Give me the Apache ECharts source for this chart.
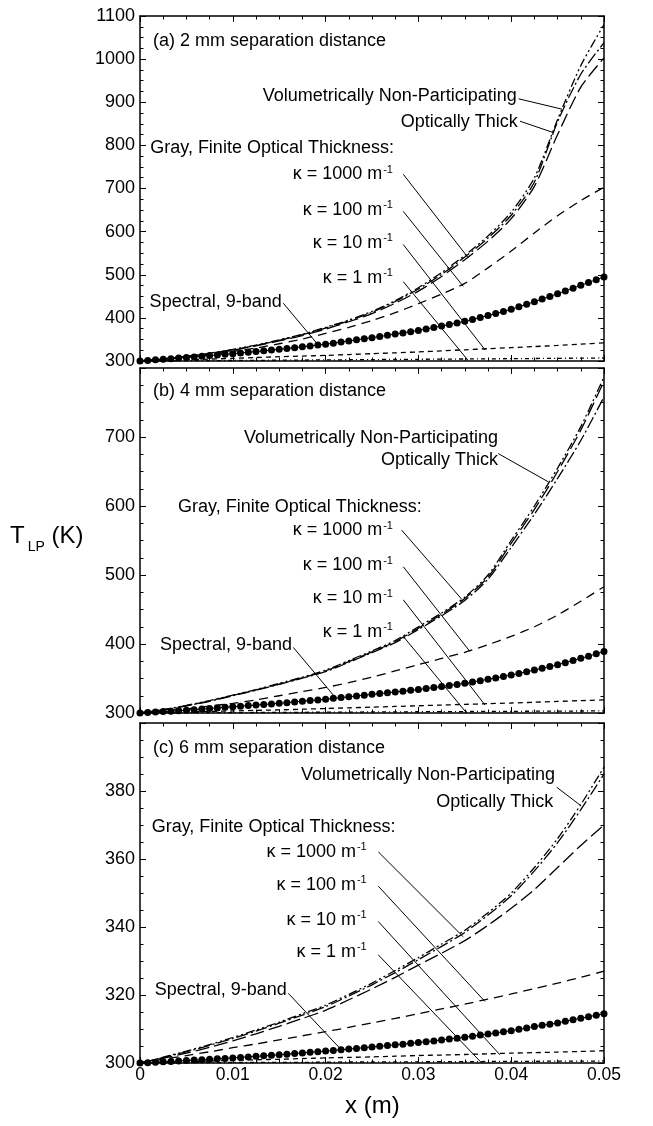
<!DOCTYPE html>
<html>
<head>
<meta charset="utf-8">
<script src="https://cdn.jsdelivr.net/npm/echarts@6/dist/echarts.min.js"></script>
<style>
  html, body { margin: 0; padding: 0; background: #fff; }
  #chart { width: 653px; height: 1126px; }
</style>
</head>
<body>
<div id="chart"></div>
<script>
// ---- sampling positions along the plate, in millimetres ----
const X_LINE_MM = [0, 2.5, 5, 7.5, 10, 12.5, 15, 17.5, 20, 22.5, 25, 27.5, 30, 32.5, 35, 37.5, 40, 42.5, 45, 47.5, 50];
const X_DOT_MM = [0, 0.833, 1.667, 2.5, 3.333, 4.167, 5, 5.833, 6.667, 7.5, 8.333, 9.167,
  10, 10.833, 11.667, 12.5, 13.333, 14.167, 15, 15.833, 16.667, 17.5, 18.333, 19.167,
  20, 20.833, 21.667, 22.5, 23.333, 24.167, 25, 25.833, 26.667, 27.5, 28.333, 29.167,
  30, 30.833, 31.667, 32.5, 33.333, 34.167, 35, 35.833, 36.667, 37.5, 38.333, 39.167,
  40, 40.833, 41.667, 42.5, 43.333, 44.167, 45, 45.833, 46.667, 47.5, 48.333, 49.167, 50];

// ---- tick labels ----
const X_TICKS = [0, 0.01, 0.02, 0.03, 0.04, 0.05];
const Y_TICKS_A = [300, 400, 500, 600, 700, 800, 900, 1000, 1100];
const Y_TICKS_B = [300, 400, 500, 600, 700, 800];
const Y_TICKS_C = [300, 320, 340, 360, 380, 400];

// ---- (a) 2 mm separation: T_LP (K) ----
const A_NONPART = [300, 305, 311, 318, 327, 337, 349, 362, 378, 395, 415, 440, 470, 505, 545, 590, 645, 725, 860, 985, 1080];
const A_THICK   = [300, 305, 310.5, 317.5, 326, 336, 348, 361, 376.5, 393.5, 413, 438, 467, 501, 541, 585, 638, 715, 855, 965, 1038];
const A_K1000   = [300, 304.5, 310, 317, 325, 335, 346.5, 359, 374, 391, 410, 434, 462, 496, 535, 578, 630, 705, 825, 935, 1003];
const A_K100    = [300, 304, 309, 315, 322, 330, 340, 351, 364, 378, 394, 412, 433, 455, 480, 516, 555, 597, 637, 672, 703];
const A_K10     = [300, 301.5, 303, 304.5, 306, 308, 310, 311.5, 313, 315, 317, 319, 321, 323.5, 326, 328.5, 331, 333.5, 336, 339, 342];
const A_K1      = [300, 300.3, 300.6, 300.9, 301.2, 301.5, 301.9, 302.2, 302.6, 302.9, 303.3, 303.6, 304, 304.3, 304.7, 305, 305.4, 305.8, 306.2, 306.6, 307];
const A_SPECTRAL = [300, 301.3, 302.7, 304, 305.3, 306.7,
  308, 309.5, 311, 312.5, 314, 315.5,
  317, 318.6, 320.3, 322, 323.6, 325.3,
  327, 329, 331, 333, 335, 337,
  339, 341.4, 343.9, 346.4, 349, 351.5,
  354, 356.8, 359.6, 362.4, 365.2, 368.1,
  371, 374.3, 377.7, 381.1, 384.6, 388.2,
  392, 396.3, 400.8, 405.4, 410.1, 415,
  420, 425.7, 431.5, 437.4, 443.5, 449.7,
  456, 462.4, 468.9, 475.5, 482.1, 488.6,
  495];

// ---- (b) 4 mm separation ----
const B_NONPART = [300, 305, 311, 318, 326, 334, 343, 352, 362, 376, 390, 405, 425, 445, 468, 500, 550, 600, 655, 715, 787];
const B_THICK   = [300, 304.5, 310.5, 317, 325, 333, 341.5, 350.5, 360, 373.5, 387.5, 402, 421, 441, 463, 494, 540, 588, 640, 695, 758];
const B_K1000   = [300, 304.5, 310.5, 317.5, 325.5, 333.5, 342, 351, 361, 374.5, 388.5, 403.5, 423, 443, 466, 497, 546, 595, 650, 710, 781];
const B_K100    = [300, 303, 306, 310, 314, 319, 325, 331, 337, 344, 352, 361, 370, 379, 388, 399, 411, 425, 442, 462, 483];
const B_K10     = [300, 300.8, 301.5, 302.3, 303, 303.8, 304.5, 305.5, 306.5, 307.5, 308.5, 309.5, 310.5, 311.5, 312.5, 313.5, 314.5, 315.6, 316.8, 317.9, 319];
const B_K1      = [300, 300.1, 300.3, 300.4, 300.6, 300.7, 300.9, 301, 301.2, 301.3, 301.5, 301.7, 301.8, 302, 302.1, 302.3, 302.4, 302.6, 302.7, 302.9, 303];
const B_SPECTRAL = [300, 300.7, 301.3, 302, 302.7, 303.3,
  304, 304.8, 305.7, 306.5, 307.3, 308.2,
  309, 309.8, 310.7, 311.5, 312.3, 313.2,
  314, 315, 316, 317, 318, 319,
  320, 321.2, 322.3, 323.5, 324.7, 325.8,
  327, 328.1, 329.3, 330.5, 331.6, 332.8,
  334, 335.4, 336.9, 338.4, 339.9, 341.4,
  343, 344.8, 346.8, 348.8, 350.8, 352.9,
  355, 357.4, 359.8, 362.3, 364.8, 367.4,
  370, 373, 376.1, 379.2, 382.4, 385.7,
  389];

// ---- (c) 6 mm separation ----
const C_NONPART = [300, 301.7, 303.5, 305.4, 307.5, 309.7, 312, 314.5, 317, 320.2, 323.5, 327.2, 331, 335, 339, 344.2, 350, 357.5, 366, 376, 387];
const C_THICK   = [300, 301.6, 303.3, 305.2, 307.2, 309.4, 311.7, 314.1, 316.6, 319.7, 323, 326.6, 330.4, 334.3, 338.4, 343.5, 349.2, 356.5, 364.8, 374.5, 385];
const C_K1000   = [300, 301.4, 302.9, 304.6, 306.5, 308.6, 310.8, 313.1, 315.5, 318.6, 321.8, 325.2, 328.8, 332.3, 336, 340.5, 345.5, 351, 357.5, 364, 370];
const C_K100    = [300, 301.1, 302.2, 303.3, 304.5, 305.6, 306.8, 308, 309.2, 310.5, 311.8, 313.1, 314.5, 315.9, 317.3, 318.8, 320.3, 321.9, 323.5, 325.2, 327];
const C_K10     = [300, 300.2, 300.4, 300.6, 300.8, 300.95, 301.1, 301.3, 301.5, 301.65, 301.8, 302, 302.2, 302.35, 302.5, 302.7, 302.9, 303.05, 303.2, 303.4, 303.6];
const C_K1      = [300, 300.05, 300.1, 300.1, 300.15, 300.15, 300.2, 300.2, 300.25, 300.3, 300.3, 300.35, 300.35, 300.4, 300.4, 300.45, 300.5, 300.5, 300.55, 300.55, 300.6];
const C_SPECTRAL = [300, 300.1, 300.2, 300.35, 300.45, 300.6,
  300.7, 300.85, 300.95, 301.1, 301.25, 301.35,
  301.5, 301.65, 301.8, 301.95, 302.1, 302.25,
  302.4, 302.6, 302.8, 302.95, 303.15, 303.3,
  303.5, 303.7, 303.9, 304.1, 304.3, 304.5,
  304.7, 304.9, 305.15, 305.35, 305.55, 305.8,
  306, 306.25, 306.5, 306.8, 307.05, 307.3,
  307.6, 307.9, 308.2, 308.5, 308.85, 309.2,
  309.5, 309.9, 310.3, 310.7, 311.1, 311.4,
  311.8, 312.25, 312.7, 313.15, 313.6, 314.05,
  314.5];

// ---- annotation texts (placed in each panel's data coordinates) ----
const K = (v) => 'κ = ' + v + ' m{sup|-1}';
const NOTES_A = [
  { t: '(a) 2 mm separation distance', at: [0.0014, 1042], side: 'right' },
  { t: 'Volumetrically Non-Participating', at: [0.0406, 914], side: 'left', lead: [[0.0408, 908], [0.04547, 884]] },
  { t: 'Optically Thick', at: [0.0407, 854], side: 'left', lead: [[0.04095, 856], [0.0445, 830]] },
  { t: 'Gray, Finite Optical Thickness:', at: [0.0011, 795], side: 'right' },
  { t: K(1000), at: [0.02726, 733], side: 'left', lead: [[0.02837, 733], [0.03538, 539]] },
  { t: K(100), at: [0.02726, 651], side: 'left', lead: [[0.02837, 647], [0.03484, 473]] },
  { t: K(10), at: [0.02726, 574], side: 'left', lead: [[0.02837, 570], [0.03718, 326]] },
  { t: K(1), at: [0.02726, 493], side: 'left', lead: [[0.02837, 484], [0.03538, 300.7]] },
  { t: 'Spectral, 9-band', at: [0.01527, 437], side: 'left', lead: [[0.01544, 434], [0.01921, 337]] }
];
const NOTES_B = [
  { t: '(b) 4 mm separation distance', at: [0.0014, 766], side: 'right' },
  { t: 'Volumetrically Non-Participating', at: [0.03858, 698], side: 'left' },
  { t: 'Optically Thick', at: [0.03858, 667], side: 'left', lead: [[0.0386, 676], [0.044, 635]] },
  { t: 'Gray, Finite Optical Thickness:', at: [0.0041, 599], side: 'right' },
  { t: K(1000), at: [0.02726, 565], side: 'left', lead: [[0.0282, 565], [0.03466, 465]] },
  { t: K(100), at: [0.02726, 514.5], side: 'left', lead: [[0.02837, 512], [0.03556, 389]] },
  { t: K(10), at: [0.02726, 466], side: 'left', lead: [[0.02837, 464], [0.03718, 311.6]] },
  { t: K(1), at: [0.02726, 418], side: 'left', lead: [[0.02837, 411], [0.0352, 300]] },
  { t: 'Spectral, 9-band', at: [0.01638, 398.6], side: 'left', lead: [[0.01652, 395], [0.02083, 326]] }
];
const NOTES_C = [
  { t: '(c) 6 mm separation distance', at: [0.0014, 392.7], side: 'right' },
  { t: 'Volumetrically Non-Participating', at: [0.04472, 384.7], side: 'left', lead: [[0.0449, 381.1], [0.04741, 375.9]] },
  { t: 'Optically Thick', at: [0.04454, 376.9], side: 'left' },
  { t: 'Gray, Finite Optical Thickness:', at: [0.00126, 369.5], side: 'right' },
  { t: K(1000), at: [0.02443, 362.1], side: 'left', lead: [[0.02568, 362.1], [0.03484, 337.1]] },
  { t: K(100), at: [0.02443, 352.4], side: 'left', lead: [[0.02568, 352], [0.03717, 318.1]] },
  { t: K(10), at: [0.02443, 342.1], side: 'left', lead: [[0.02568, 341.6], [0.03879, 302.4]] },
  { t: K(1), at: [0.02443, 332.7], side: 'left', lead: [[0.02568, 331.8], [0.03682, 300]] },
  { t: 'Spectral, 9-band', at: [0.01581, 321.5], side: 'left', lead: [[0.01598, 320.5], [0.02155, 304.3]] }
];

// ---- layout and styling ----
const FONT = '"Liberation Sans", Arial, Helvetica, sans-serif';
const INK = '#000';
const DASH = {
  nonpart: [9, 3, 2, 3, 2, 3],
  thick: [12, 3, 2, 3],
  k1000: [14, 5],
  k100: [9, 6],
  k10: [5, 4],
  k1: [4, 3, 1, 3]
};

const PANELS = [
  { top: 16, height: 345, yTicks: Y_TICKS_A, showMax: true, notes: NOTES_A,
    curves: { nonpart: A_NONPART, thick: A_THICK, k1000: A_K1000, k100: A_K100, k10: A_K10, k1: A_K1 }, spectral: A_SPECTRAL },
  { top: 368, height: 345, yTicks: Y_TICKS_B, showMax: false, notes: NOTES_B,
    curves: { nonpart: B_NONPART, thick: B_THICK, k1000: B_K1000, k100: B_K100, k10: B_K10, k1: B_K1 }, spectral: B_SPECTRAL },
  { top: 723, height: 340, yTicks: Y_TICKS_C, showMax: false, notes: NOTES_C,
    curves: { nonpart: C_NONPART, thick: C_THICK, k1000: C_K1000, k100: C_K100, k10: C_K10, k1: C_K1 }, spectral: C_SPECTRAL }
];

const grids = [], xAxes = [], yAxes = [], series = [];

const tickStyle = {
  axisLine: { show: true, onZero: false, lineStyle: { color: INK, width: 1.5 } },
  axisTick: { show: true, inside: true, length: 6, lineStyle: { color: INK, width: 1 } },
  minorTick: { show: true, splitNumber: 4, length: 3.5, lineStyle: { color: INK, width: 1 } },
  splitLine: { show: false },
  minorSplitLine: { show: false }
};

PANELS.forEach((p, g) => {
  grids.push({ left: 140, width: 464, top: p.top, height: p.height, containLabel: false });
  const isBottom = g === PANELS.length - 1;
  const yMin = p.yTicks[0], yMax = p.yTicks[p.yTicks.length - 1];
  const yStep = p.yTicks[1] - p.yTicks[0];

  ['bottom', 'top'].forEach((pos) => {
    xAxes.push(Object.assign({
      type: 'value', gridIndex: g, position: pos,
      min: X_TICKS[0], max: X_TICKS[X_TICKS.length - 1], interval: X_TICKS[1] - X_TICKS[0],
      axisLabel: {
        show: pos === 'bottom' && isBottom, color: INK, fontFamily: FONT, fontSize: 17.5, margin: 3,
        formatter: (v) => (v === 0 ? '0' : v.toFixed(2))
      }
    }, tickStyle));
  });
  ['left', 'right'].forEach((pos) => {
    yAxes.push(Object.assign({
      type: 'value', gridIndex: g, position: pos,
      min: yMin, max: yMax, interval: yStep,
      axisLabel: {
        show: pos === 'left', color: INK, fontFamily: FONT, fontSize: 18, margin: 5,
        showMaxLabel: p.showMax, showMinLabel: true,
        formatter: (v) => String(Math.round(v))
      }
    }, tickStyle));
  });

  const xi = 2 * g, yi = 2 * g;

  // model curves
  Object.keys(p.curves).forEach((key) => {
    const ys = p.curves[key];
    series.push({
      type: 'line', xAxisIndex: xi, yAxisIndex: yi,
      data: X_LINE_MM.map((mm, i) => [mm / 1000, ys[i]]),
      symbol: 'none', smooth: 0.25,
      lineStyle: { color: INK, width: 1.3, type: DASH[key] },
      silent: true, z: 3
    });
  });

  // spectral, 9-band solution: filled circles
  series.push({
    type: 'line', xAxisIndex: xi, yAxisIndex: yi,
    data: X_DOT_MM.map((mm, i) => [mm / 1000, p.spectral[i]]),
    symbol: 'circle', symbolSize: 7, showSymbol: true,
    itemStyle: { color: INK, borderWidth: 0 },
    lineStyle: { color: INK, width: 1 },
    silent: true, z: 4
  });

  // annotation texts and their leader lines
  const leads = p.notes.filter((n) => n.lead).map((n) => [
    { coord: n.lead[0] }, { coord: n.lead[1] }
  ]);
  series.push({
    type: 'scatter', xAxisIndex: xi, yAxisIndex: yi,
    symbolSize: 0, itemStyle: { color: INK, opacity: 1 },
    silent: true, z: 6,
    data: p.notes.map((n) => ({
      name: n.t, value: n.at,
      label: { position: n.side }
    })),
    label: {
      show: true, distance: 0, color: INK, opacity: 1, fontFamily: FONT, fontSize: 18, lineHeight: 20,
      textBorderWidth: 0,
      formatter: (prm) => prm.name,
      rich: {
        sup: { fontSize: 11, lineHeight: 10, verticalAlign: 'top', fontFamily: FONT, color: INK, padding: [0, 0, 0, 1] }
      }
    },
    markLine: {
      silent: true, symbol: ['none', 'none'], animation: false,
      label: { show: false },
      lineStyle: { color: INK, width: 1, type: 'solid', opacity: 1 },
      emphasis: { disabled: true },
      data: leads
    }
  });
});

const chart = echarts.init(document.getElementById('chart'), null, { renderer: 'canvas' });
chart.setOption({
  backgroundColor: '#fff',
  animation: false,
  grid: grids,
  xAxis: xAxes,
  yAxis: yAxes,
  series: series,
  graphic: [
    {
      type: 'text', left: 10, top: 524, silent: true,
      style: {
        text: '{t|T}{s|LP}{t| (K)}',
        rich: {
          t: { fontFamily: FONT, fontSize: 24, lineHeight: 30, fill: INK, verticalAlign: 'top' },
          s: { fontFamily: FONT, fontSize: 14, lineHeight: 30, fill: INK, verticalAlign: 'bottom', padding: [0, 0, 0, 3] }
        }
      }
    },
    {
      type: 'text', left: 345, top: 1094, silent: true,
      style: { text: 'x (m)', fontFamily: FONT, fontSize: 24, fill: INK }
    }
  ]
});
</script>
</body>
</html>
